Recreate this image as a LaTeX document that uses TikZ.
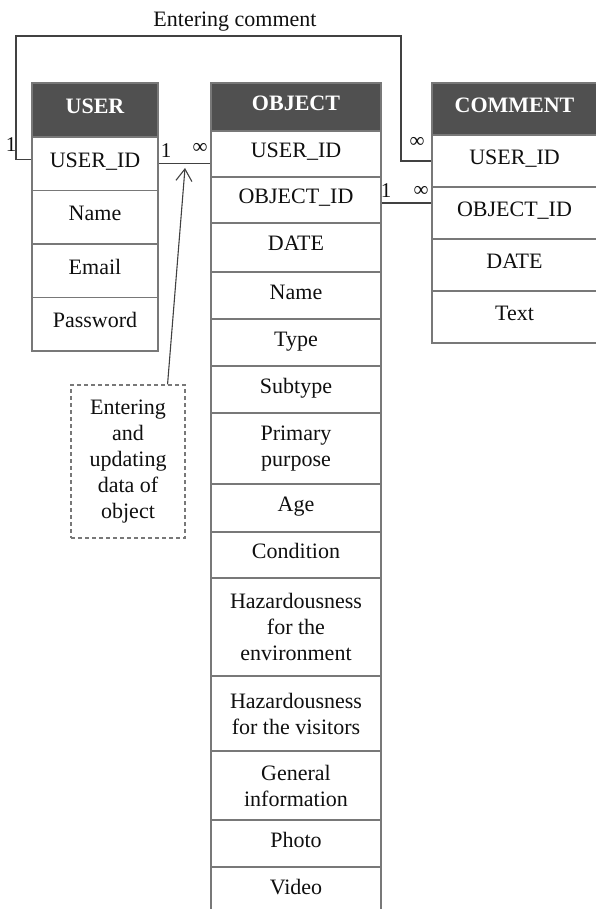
\documentclass[tikz,border=0pt]{standalone}
\usepackage{fontspec}
\setmainfont{Liberation Serif}
\usetikzlibrary{arrows.meta,calc}
\definecolor{headfill}{RGB}{80,80,80}
\definecolor{rulegray}{RGB}{120,120,120}
\definecolor{ink}{RGB}{15,15,15}
\definecolor{wiregray}{RGB}{65,65,65}
\begin{document}
\begin{tikzpicture}[x=1pt,y=-1pt,
  every node/.style={font=\fontsize{22pt}{26pt}\selectfont, text=ink},
  cell/.style={draw=rulegray, line width=1.4pt, rectangle, inner sep=0pt, align=center},
  one/.style={text height=15pt, text depth=8pt},
  head/.style={cell, one, fill=headfill, text=white, font=\fontsize{22pt}{26pt}\selectfont\bfseries},
  ucol/.style={minimum width=126pt},
  ocol/.style={minimum width=170pt},
  ccol/.style={minimum width=165pt},
  wire/.style={draw=wiregray, line width=1.1pt},
  mult/.style={inner sep=0pt, font=\fontsize{21pt}{24pt}\selectfont},
  notebox/.style={draw=rulegray, line width=1.1pt, dash pattern=on 4pt off 3pt, align=center, minimum width=114pt, minimum height=153pt, inner sep=0pt}
]
\useasboundingbox (0,0) rectangle (595,909);

% USER table
\node[head, ucol, minimum height=54pt]   (uh)  at (95,110)    {USER};
\node[cell, one, ucol, minimum height=53.5pt] (uid) at (95,163.75) {USER\_ID};
\node[cell, one, ucol, minimum height=53.5pt] (un)  at (95,217.25) {Name};
\node[cell, one, ucol, minimum height=53.5pt] (ue)  at (95,270.75) {Email};
\node[cell, one, ucol, minimum height=53.5pt] (up)  at (95,324.25) {Password};

% OBJECT table
\node[head, ocol, minimum height=48pt] (oh) at (296,107) {OBJECT};
\node[cell, one, ocol, minimum height=46pt] (ouid)  at (296,154)   {USER\_ID};
\node[cell, one, ocol, minimum height=46pt] (ooid)  at (296,200)   {OBJECT\_ID};
\node[cell, one, ocol, minimum height=49pt] (odate) at (296,247.5) {DATE};
\node[cell, one, ocol, minimum height=47pt] (oname) at (296,295.5) {Name};
\node[cell, one, ocol, minimum height=47pt] (otype) at (296,342.5) {Type};
\node[cell, one, ocol, minimum height=47pt] (osub)  at (296,389.5) {Subtype};
\node[cell, ocol, minimum height=71pt] (oprim) at (296,448.5) {Primary\\purpose};
\node[cell, one, ocol, minimum height=48pt] (oage)  at (296,508)   {Age};
\node[cell, one, ocol, minimum height=46pt] (ocond) at (296,555)   {Condition};
\node[cell, ocol, minimum height=98pt] (ohenv) at (296,627)   {Hazardousness\\for the\\environment};
\node[cell, ocol, minimum height=75pt] (ohvis) at (296,713.5) {Hazardousness\\for the visitors};
\node[cell, ocol, minimum height=69pt] (ogen)  at (296,785.5) {General\\information};
\node[cell, one, ocol, minimum height=47pt] (ophoto) at (296,843.5) {Photo};
\node[cell, one, ocol, minimum height=47pt] (ovideo) at (296,890.5) {Video};

% COMMENT table
\node[head, ccol, minimum height=52pt] (ch) at (514.5,109) {COMMENT};
\node[cell, one, ccol, minimum height=52pt] (cuid)  at (514.5,161) {USER\_ID};
\node[cell, one, ccol, minimum height=52pt] (coid)  at (514.5,213) {OBJECT\_ID};
\node[cell, one, ccol, minimum height=52pt] (cdate) at (514.5,265) {DATE};
\node[cell, one, ccol, minimum height=52pt] (ctext) at (514.5,317) {Text};

% routing corners of the comment link
\coordinate (lcorner) at (16,36);
\coordinate (rcorner) at (401,36);
\node (entc) at (235,22) {Entering comment};

% relations
\draw[wire] ([yshift=4pt]uid.west) -| (lcorner) -- (rcorner) |- (cuid.west);
\draw[wire] (uid.east) -- (uid.east -| ouid.west);
\draw[wire] ([yshift=-3pt]ooid.east) -- ([yshift=-3pt]ooid.east -| coid.west);

% multiplicities
\node[mult] (m1) at (11,145)  {1};
\node[mult] (m2) at (417,142) {∞};
\node[mult] (m3) at (166,151) {1};
\node[mult] (m4) at (200,148) {∞};
\node[mult] (m5) at (386,191) {1};
\node[mult] (m6) at (421,191) {∞};

% annotation
\node[notebox] (note) at (128,461.5) {Entering\\and\\updating\\data of\\object};
\coordinate (atip) at (185,168);
\draw[wire, -{Straight Barb[length=12pt,width=16pt]}] ([xshift=-18pt]note.north east) -- (atip);
\end{tikzpicture}
\end{document}
